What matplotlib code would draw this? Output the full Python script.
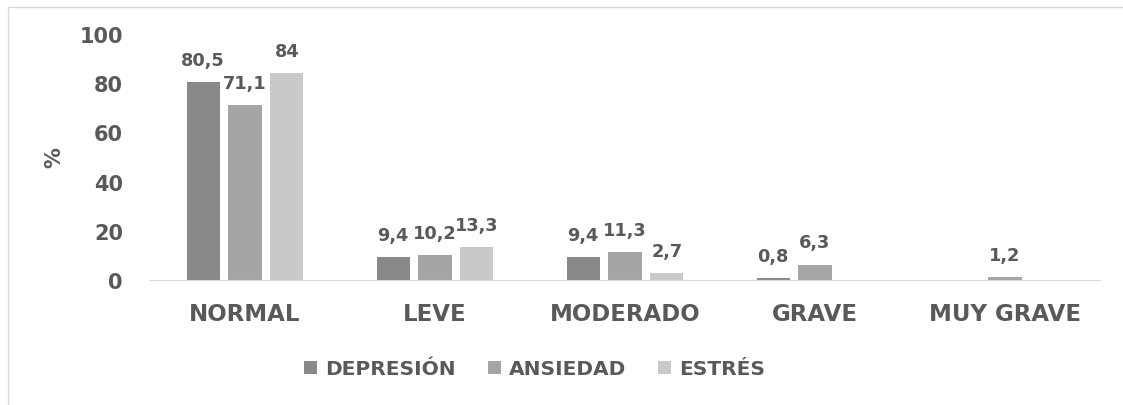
import numpy as np
import matplotlib.pyplot as plt
from matplotlib.patches import Rectangle

categories = ['NORMAL', 'LEVE', 'MODERADO', 'GRAVE', 'MUY GRAVE']
series_names = ['DEPRESIÓN', 'ANSIEDAD', 'ESTRÉS']
depresion = [80.5, 9.4, 9.4, 0.8, 0]
ansiedad = [71.1, 10.2, 11.3, 6.3, 1.2]
estres = [84, 13.3, 2.7, 0, 0]
colors = ['#898989', '#a5a5a5', '#c9c9c9']

plt.rcParams['font.family'] = ['DejaVu Sans']
text_color = '#595959'
w = 'bold'

fig = plt.figure(figsize=(11.23, 4.06), dpi=100)
ax = fig.add_axes([150 / 1123, 125 / 406, 950 / 1123, 246 / 406])

# light frame around the chart area
fig.patches.append(Rectangle((8 / 1123, -0.1), 1.2, 1.1 - 8 / 406,
                             transform=fig.transFigure, fill=False,
                             edgecolor='#d9d9d9', linewidth=1))

x = np.arange(len(categories))
width = 0.175
offsets = [-0.22, 0, 0.22]

for vals, name, col, off in zip([depresion, ansiedad, estres], series_names, colors, offsets):
    bars = ax.bar(x + off, vals, width, color=col, label=name)
    for b, v in zip(bars, vals):
        if v == 0:
            continue
        txt = ('%g' % v).replace('.', ',')
        ax.text(b.get_x() + b.get_width() / 2, v + 7, txt, ha='center', va='baseline',
                fontsize=12.8, fontweight=w, color=text_color)

ax.set_xlim(-0.5, 4.5)
ax.set_ylim(0, 100)
ax.set_yticks([0, 20, 40, 60, 80, 100])
ax.set_xticks(x)
ax.set_xticklabels(categories)
ax.tick_params(axis='both', length=0, colors=text_color, labelsize=16.5)
ax.tick_params(axis='y', pad=19.5, labelsize=15)
ax.tick_params(axis='x', pad=16)
for lab in ax.get_xticklabels() + ax.get_yticklabels():
    lab.set_fontweight(w)

for s in ['top', 'right', 'left']:
    ax.spines[s].set_visible(False)
ax.spines['bottom'].set_color('#d9d9d9')

ax.set_ylabel('%', fontsize=15, color=text_color, fontweight=w, labelpad=11)

leg = fig.legend(loc='center', bbox_to_anchor=(0.476, 0.089), ncol=3, frameon=False,
                 fontsize=14.5, handlelength=0.65, handleheight=0.65, handletextpad=0.4,
                 columnspacing=1.6)
for t in leg.get_texts():
    t.set_color(text_color)
    t.set_fontweight(w)

fig.savefig('out.png', dpi=100)
